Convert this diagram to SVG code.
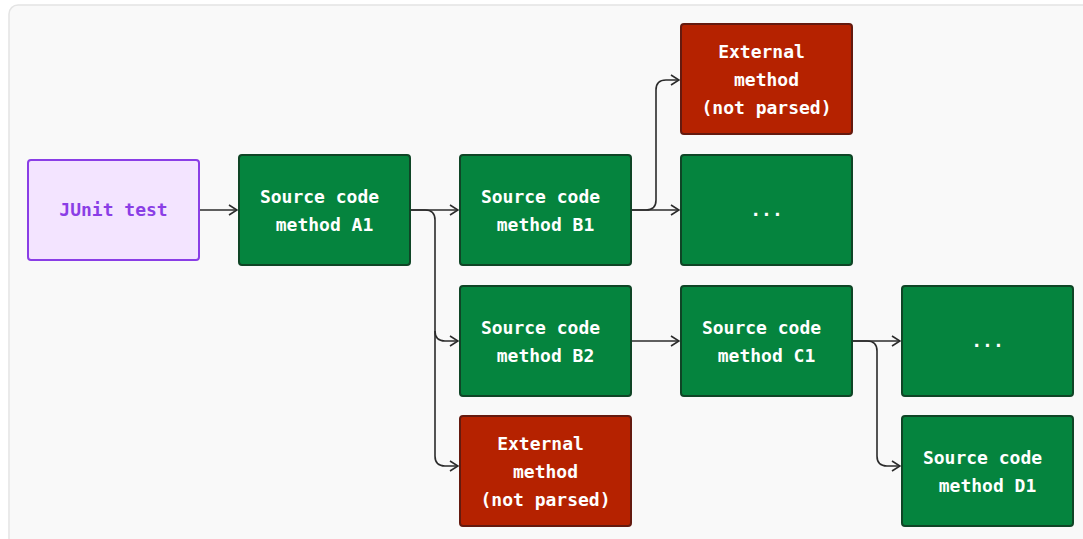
<svg xmlns="http://www.w3.org/2000/svg" width="1083" height="539" viewBox="0 0 1083 539">
<defs>
<style>
.bg{fill:#f9f9f9;stroke:#e4e4e4;stroke-width:1.5}
.g{fill:#05843e;stroke:#0f4526;stroke-width:2}
.r{fill:#b52200;stroke:#641a0f;stroke-width:2}
.p{fill:#f3e4ff;stroke:#8a3ee6;stroke-width:2}
text{font-family:"DejaVu Sans Mono","Liberation Mono",monospace;font-size:18px;font-weight:bold;text-anchor:middle}
.w{fill:#ffffff}
.pt{fill:#8a3ee6}
.c{fill:none;stroke:#2b2b2b;stroke-width:1.6}
</style>
<marker id="ah" viewBox="0 0 10 12" refX="9" refY="6" markerWidth="10" markerHeight="12" markerUnits="userSpaceOnUse" orient="auto">
<path d="M1,1 L9,6 L1,11" fill="none" stroke="#2b2b2b" stroke-width="1.6"/>
</marker>
</defs>
<rect x="0" y="0" width="1083" height="539" fill="#ffffff"/>
<rect class="bg" x="9" y="5" width="1090" height="560" rx="9"/>

<g id="connectors">
<path class="c" d="M200,210 H237" marker-end="url(#ah)"/>
<path class="c" d="M411,210 H458" marker-end="url(#ah)"/>
<path class="c" d="M411,210 H425 Q435,210 435,220 V331 Q435,341 445,341 H458" marker-end="url(#ah)"/>
<path class="c" d="M435,331 V456 Q435,466 445,466 H458" marker-end="url(#ah)"/>
<path class="c" d="M632,210 H679" marker-end="url(#ah)"/>
<path class="c" d="M632,210 H646 Q656,210 656,200 V90 Q656,80 666,80 H679" marker-end="url(#ah)"/>
<path class="c" d="M632,341 H679" marker-end="url(#ah)"/>
<path class="c" d="M853,341 H900" marker-end="url(#ah)"/>
<path class="c" d="M853,341 H867 Q877,341 877,351 V456 Q877,466 887,466 H900" marker-end="url(#ah)"/>
</g>

<g id="junit">
<rect class="p" x="28" y="160" width="171" height="100" rx="3"/>
<text class="pt" x="113.5" y="216">JUnit test</text>
</g>
<g id="a1">
<rect class="g" x="239" y="155" width="171" height="110" rx="3"/>
<text class="w" x="319.5" y="203">Source code</text>
<text class="w" x="324.5" y="231">method A1</text>
</g>
<g id="b1">
<rect class="g" x="460" y="155" width="171" height="110" rx="3"/>
<text class="w" x="540.5" y="203">Source code</text>
<text class="w" x="545.5" y="231">method B1</text>
</g>
<g id="b2">
<rect class="g" x="460" y="286" width="171" height="110" rx="3"/>
<text class="w" x="540.5" y="334">Source code</text>
<text class="w" x="545.5" y="362">method B2</text>
</g>
<g id="ext-b">
<rect class="r" x="460" y="416" width="171" height="110" rx="3"/>
<text class="w" x="540.5" y="450">External</text>
<text class="w" x="545.5" y="478">method</text>
<text class="w" x="545.5" y="506">(not parsed)</text>
</g>
<g id="ext-top">
<rect class="r" x="681" y="24" width="171" height="110" rx="3"/>
<text class="w" x="761.5" y="58">External</text>
<text class="w" x="766.5" y="86">method</text>
<text class="w" x="766.5" y="114">(not parsed)</text>
</g>
<g id="dots1">
<rect class="g" x="681" y="155" width="171" height="110" rx="3"/>
<text class="w" x="766.5" y="216">...</text>
</g>
<g id="c1">
<rect class="g" x="681" y="286" width="171" height="110" rx="3"/>
<text class="w" x="761.5" y="334">Source code</text>
<text class="w" x="766.5" y="362">method C1</text>
</g>
<g id="dots2">
<rect class="g" x="902" y="286" width="171" height="110" rx="3"/>
<text class="w" x="987.5" y="347">...</text>
</g>
<g id="d1">
<rect class="g" x="902" y="416" width="171" height="110" rx="3"/>
<text class="w" x="982.5" y="464">Source code</text>
<text class="w" x="987.5" y="492">method D1</text>
</g>
</svg>
